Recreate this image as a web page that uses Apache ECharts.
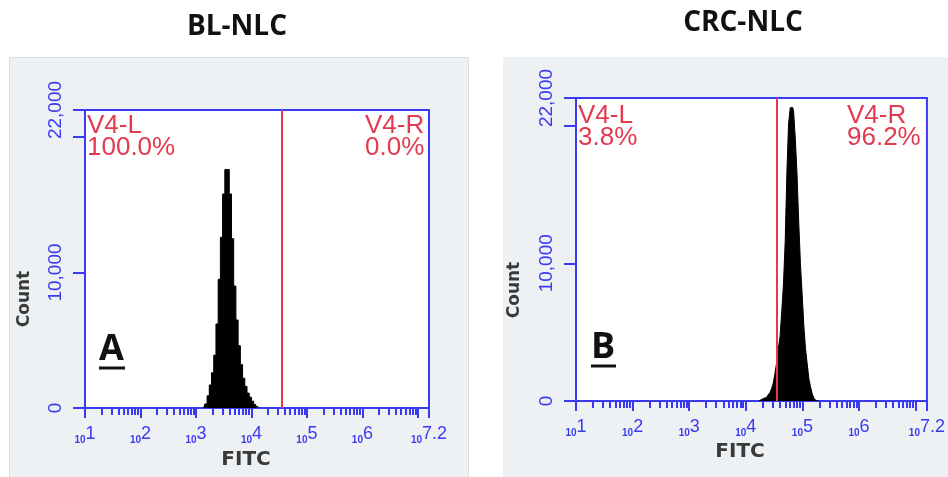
<!DOCTYPE html>
<html>
<head>
<meta charset="utf-8">
<script src="https://cdn.jsdelivr.net/npm/echarts@6/dist/echarts.min.js"></script>
<style>
  html, body { margin: 0; padding: 0; background: #fff; }
  #main { width: 948px; height: 477px; }
</style>
</head>
<body>
<div id="main"></div>
<script>
// panel titles
var titles = ['BL-NLC', 'CRC-NLC'];

// log10(FITC) bin centres and counts, panel A (BL-NLC)
var binsA = [3.14, 3.18, 3.22, 3.26, 3.30, 3.34, 3.38, 3.42, 3.46, 3.50, 3.54, 3.58, 3.62, 3.66,
  3.70, 3.74, 3.78, 3.82, 3.86, 3.90, 3.94, 3.98, 4.02, 4.06, 4.10, 4.14];
var countsA = [0, 300, 900, 1700, 2600, 3900, 6200, 9500, 12600, 15800, 17600, 17600, 15800, 12500,
  9000, 6500, 4600, 3200, 2200, 1600, 1100, 800, 500, 250, 100, 0];

// panel B (CRC-NLC)
var binsB = [4.23, 4.26, 4.29, 4.32, 4.35, 4.38, 4.41, 4.44, 4.47, 4.50, 4.53, 4.56, 4.59, 4.62,
  4.65, 4.68, 4.71, 4.74, 4.77, 4.80, 4.83, 4.86, 4.89, 4.92, 4.95, 4.98, 5.01, 5.04, 5.07,
  5.10, 5.13, 5.16, 5.19, 5.22, 5.25, 5.28];
var countsB = [0, 100, 150, 200, 250, 350, 450, 600, 900, 1300, 2000, 2800, 3800, 4700,
  6500, 8500, 11500, 16500, 20100, 21300, 21300, 21000, 19000, 16500, 13000, 10000, 7800, 5500, 3800,
  2700, 1600, 1000, 500, 200, 50, 0];

// gate V4 split (log10 FITC)
var gateA = 4.54;
var gateB = 4.54;
var gateLabelsA = ['V4-L\n100.0%', 'V4-R\n0.0%'];
var gateLabelsB = ['V4-L\n3.8%', 'V4-R\n96.2%'];

// axes
var decades = [1, 2, 3, 4, 5, 6, 7];
var xMin = 1, xMax = 7.2;
var yLabelHidden = [20000];

var BLUE = '#3a3af0';
var RED = '#e23a4f';
var GREY = '#edf1f3';

var minorTicks = [];
decades.forEach(function (d) {
  for (var k = 2; k <= 9; k++) {
    var v = d + Math.log10(k);
    if (v < xMax) minorTicks.push(v);
  }
});

function pairs(xs, ys) {
  return xs.map(function (x, i) { return [x, ys[i]]; });
}

function fmtY(v) {
  if (yLabelHidden.indexOf(v) >= 0) return '';
  return String(v).replace(/\B(?=(\d{3})+(?!\d))/g, ',');
}

function fmtX(v) {
  if (Math.abs(v - 7) < 1e-6) return '';
  var e = Math.abs(v - xMax) < 1e-6 ? '7.2' : String(Math.round(v));
  return '{s|10}{e|' + e + '}';
}

function mainX(grid) {
  return {
    type: 'value', gridIndex: grid, min: xMin, max: xMax, interval: 1,
    position: 'bottom',
    axisLine: { show: true, lineStyle: { color: BLUE, width: 2 } },
    axisTick: { show: true, length: 10, lineStyle: { color: BLUE, width: 2 } },
    splitLine: { show: false },
    axisLabel: {
      margin: 17, formatter: fmtX,
      rich: {
        s: { fontSize: 10, fontWeight: 'bold', color: BLUE, fontFamily: 'Liberation Sans', verticalAlign: 'bottom', lineHeight: 20 },
        e: { fontSize: 18, color: BLUE, fontFamily: 'Liberation Sans', verticalAlign: 'top', lineHeight: 20 }
      }
    }
  };
}

function minorX(grid) {
  return {
    type: 'value', gridIndex: grid, min: xMin, max: xMax,
    position: 'bottom',
    axisLine: { show: false },
    axisTick: { show: true, length: 7, customValues: minorTicks, lineStyle: { color: BLUE, width: 2 } },
    axisLabel: { show: false },
    splitLine: { show: false }
  };
}

function yAx(grid) {
  return {
    type: 'value', gridIndex: grid, min: 0, max: 22000, interval: 10000,
    axisLine: { show: true, lineStyle: { color: BLUE, width: 2 } },
    axisTick: { show: true, length: 12, lineStyle: { color: BLUE, width: 2 } },
    splitLine: { show: false },
    axisLabel: {
      rotate: 90, margin: 20, formatter: fmtY, color: BLUE,
      fontSize: 19, fontFamily: 'Liberation Sans'
    }
  };
}

function histSeries(xi, yi, xs, ys, gate) {
  return {
    type: 'line', xAxisIndex: xi, yAxisIndex: yi, step: 'middle',
    data: pairs(xs, ys), symbol: 'none',
    lineStyle: { color: '#000', width: 1 },
    areaStyle: { color: '#000', opacity: 1 },
    markLine: {
      silent: true, symbol: 'none', label: { show: false },
      lineStyle: { color: RED, width: 2, type: 'solid' },
      data: [{ xAxis: gate }]
    }
  };
}

function txt(left, top, text, style) {
  return { type: 'text', left: left, top: top, z: 100, style: Object.assign({ text: text }, style) };
}

var gateFont = { fill: RED, font: '26px "Liberation Sans"', lineHeight: 22 };
var nameFont = { fill: '#3a3a3a', font: 'bold 17px "DejaVu Sans"' };
var fitcFont = { fill: '#3a3a3a', font: 'bold 20px "DejaVu Sans"' };
var letterFont = { fill: '#111', font: 'bold 36px "Open Sans"' };

var chart = echarts.init(document.getElementById('main'));
chart.setOption({
  animation: false,
  backgroundColor: '#fff',
  title: [
    { text: titles[0], left: 232, top: 8, textAlign: 'center',
      textStyle: { fontFamily: 'Open Sans', fontWeight: 'bold', fontSize: 28, color: '#111' } },
    { text: titles[1], left: 738, top: 4, textAlign: 'center',
      textStyle: { fontFamily: 'Open Sans', fontWeight: 'bold', fontSize: 28, color: '#111' } }
  ],
  grid: [
    { left: 85, top: 110, width: 344, height: 298, show: true, backgroundColor: '#fff', borderColor: BLUE, borderWidth: 2 },
    { left: 576, top: 98, width: 352, height: 303, show: true, backgroundColor: '#fff', borderColor: BLUE, borderWidth: 2 }
  ],
  xAxis: [mainX(0), minorX(0), mainX(1), minorX(1)],
  yAxis: [yAx(0), yAx(1)],
  series: [
    histSeries(0, 0, binsA, countsA, gateA),
    histSeries(2, 1, binsB, countsB, gateB)
  ],
  graphic: [
    { type: 'rect', left: 9, top: 57, z: -10, shape: { width: 459, height: 420 }, style: { fill: GREY, stroke: '#d8dcde' } },
    { type: 'rect', left: 503, top: 57, z: -10, shape: { width: 445, height: 420 }, style: { fill: GREY } },
    txt(87, 113, gateLabelsA[0], gateFont),
    txt(365, 113, gateLabelsA[1], gateFont),
    txt(578, 103, gateLabelsB[0], gateFont),
    txt(847, 103, gateLabelsB[1], gateFont),
    { type: 'text', x: 25, y: 299, rotation: Math.PI / 2, z: 100,
      style: Object.assign({ text: 'Count', textAlign: 'center', textVerticalAlign: 'middle' }, nameFont) },
    { type: 'text', x: 515, y: 290, rotation: Math.PI / 2, z: 100,
      style: Object.assign({ text: 'Count', textAlign: 'center', textVerticalAlign: 'middle' }, nameFont) },
    { type: 'text', x: 246, y: 460, z: 100,
      style: Object.assign({ text: 'FITC', textAlign: 'center', textVerticalAlign: 'middle' }, fitcFont) },
    { type: 'text', x: 740, y: 452, z: 100,
      style: Object.assign({ text: 'FITC', textAlign: 'center', textVerticalAlign: 'middle' }, fitcFont) },
    txt(99, 332, 'A', letterFont),
    txt(591, 330, 'B', letterFont),
    { type: 'line', z: 100, shape: { x1: 99, y1: 368, x2: 125, y2: 368 }, style: { stroke: '#111', lineWidth: 3 } },
    { type: 'line', z: 100, shape: { x1: 591, y1: 366, x2: 616, y2: 366 }, style: { stroke: '#111', lineWidth: 3 } }
  ]
});
</script>
</body>
</html>
